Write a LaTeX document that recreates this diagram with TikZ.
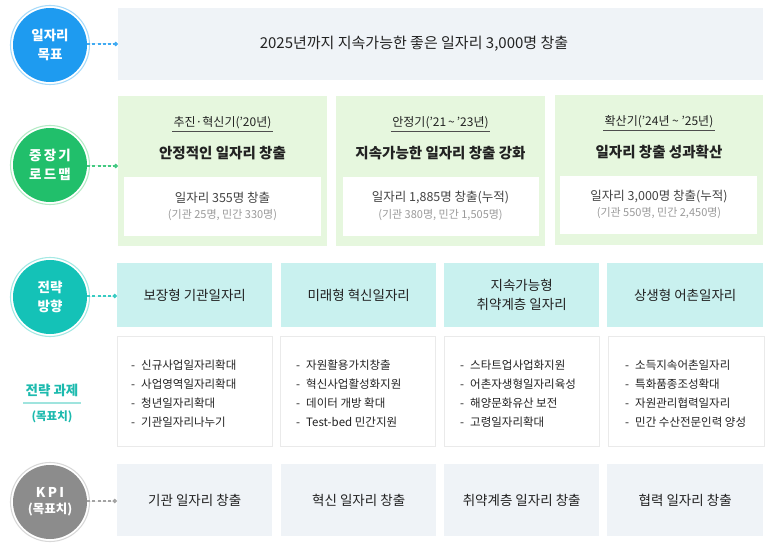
\documentclass[tikz,border=0pt]{standalone}
\usepackage{fontspec}
\setmainfont{Noto Sans CJK KR}
\usetikzlibrary{arrows.meta}
\definecolor{cblue}{HTML}{1E9BF0}
\definecolor{rblue}{HTML}{A8DBFA}
\definecolor{cgreen}{HTML}{21BF6B}
\definecolor{rgreen}{HTML}{B5EBC6}
\definecolor{cteal}{HTML}{14C2B7}
\definecolor{rteal}{HTML}{A5E9E4}
\definecolor{cgray}{HTML}{8C8C8C}
\definecolor{rgray}{HTML}{D8D8D8}
\definecolor{boxgray}{HTML}{EFF3F7}
\definecolor{boxgreen}{HTML}{E6F7DE}
\definecolor{boxteal}{HTML}{C9F1EF}
\definecolor{txt}{HTML}{222222}
\definecolor{subtxt}{HTML}{9A9A9A}
\definecolor{tealtxt}{HTML}{1DBAAE}
\definecolor{tealline}{HTML}{9FE4DE}
\definecolor{bordergray}{HTML}{EAEAEA}
\begin{document}
\begin{tikzpicture}[x=1pt,y=-1pt,
  every node/.style={text=txt},
  circ/.style={circle, minimum size=74pt, inner sep=0pt, text=white, align=center,
    font=\bfseries\fontsize{13.5}{19}\selectfont},
  ringc/.style={circle, minimum size=79pt, inner sep=0pt, line width=1.1pt},
  conn/.style={dash pattern=on 3pt off 2.2pt, line width=1.1pt, -{Circle[length=4.5pt]}},
  box/.style={rectangle, anchor=north west, inner sep=0pt},
  heading/.style={font=\fontsize{12}{14}\selectfont},
  title/.style={font=\bfseries\fontsize{14.5}{17}\selectfont},
  amount/.style={font=\fontsize{12.5}{15}\selectfont, text=txt!85},
  detail/.style={font=\fontsize{11}{13}\selectfont, text=subtxt},
  dirtext/.style={font=\fontsize{13.5}{19}\selectfont, align=center},
  tasklist/.style={anchor=west, align=left, font=\fontsize{11.5}{19}\selectfont, inner sep=0pt},
  kpitext/.style={font=\fontsize{13.5}{16}\selectfont}
]
\useasboundingbox (0,0) rectangle (779,548);

% ---------- row 1: goal ----------
\node[circ, fill=cblue] (c1) at (50,45) {일자리\\목표};
\node[ringc, draw=rblue] (r1) at (c1) {};
\node[box, fill=boxgray, minimum width=645pt, minimum height=72pt] (g1) at (118,8) {};
\node[font=\fontsize{15}{17}\selectfont] (g1t) at (414,44) {2025년까지 지속가능한 좋은 일자리 3,000명 창출};
\draw[conn, draw=cblue!85, fill=cblue] (c1.east |- 0,44) -- (g1.west |- 0,44);

% ---------- row 2: roadmap ----------
\node[circ, fill=cgreen] (c2) at (50,165) {중\,장\,기\\로\,드\,맵};
\node[ringc, draw=rgreen] (r2) at (c2) {};

\node[box, fill=boxgreen, minimum width=209pt, minimum height=150pt] (p1) at (118,96) {};
\node[box, fill=boxgreen, minimum width=209pt, minimum height=150pt] (p2) at (336,96) {};
\node[box, fill=boxgreen, minimum width=208pt, minimum height=150pt] (p3) at (555,95) {};
\node[box, fill=white, minimum width=197pt, minimum height=59pt] (w1) at (124,177) {};
\node[box, fill=white, minimum width=196pt, minimum height=59pt] (w2) at (343,177) {};
\node[box, fill=white, minimum width=197pt, minimum height=58pt] (w3) at (560,176) {};
\draw[conn, draw=cgreen!85, fill=cgreen] (c2.east |- 0,166) -- (p1.west |- 0,166);

\node[heading] (h1) at (222.5,123) {추진·혁신기(’20년)};
\node[heading] (h2) at (440.5,123) {안정기(’21\,\textasciitilde\,’23년)};
\node[heading] (h3) at (659,122) {확산기(’24년 \textasciitilde\ ’25년)};
\draw[txt!80, line width=0.6pt] (h1.south west) ++(2,-1) -- ([shift={(-2,-1)}]h1.south east);
\draw[txt!80, line width=0.6pt] (h2.south west) ++(2,-1) -- ([shift={(-2,-1)}]h2.south east);
\draw[txt!80, line width=0.6pt] (h3.south west) ++(2,-1) -- ([shift={(-2,-1)}]h3.south east);

\node[title] (t1) at (222.5,153) {안정적인 일자리 창출};
\node[title] (t2) at (440.5,153) {지속가능한 일자리 창출 강화};
\node[title] (t3) at (659,152) {일자리 창출 성과확산};

\node[amount] (a1) at (222.5,198) {일자리 355명 창출};
\node[detail] (d1) at (222.5,215) {(기관 25명, 민간 330명)};
\node[amount] (a2) at (440.5,198) {일자리 1,885명 창출(누적)};
\node[detail] (d2) at (440.5,215) {(기관 380명, 민간 1,505명)};
\node[amount] (a3) at (659,197) {일자리 3,000명 창출(누적)};
\node[detail] (d3) at (659,213) {(기관 550명, 민간 2,450명)};

% ---------- row 3: directions ----------
\node[circ, fill=cteal] (c3) at (50,297) {전략\\방향};
\node[ringc, draw=rteal] (r3) at (c3) {};

\node[box, fill=boxteal, minimum width=155pt, minimum height=64pt] (s1) at (117,263) {};
\node[box, fill=boxteal, minimum width=155pt, minimum height=64pt] (s2) at (281,263) {};
\node[box, fill=boxteal, minimum width=155pt, minimum height=64pt] (s3) at (444,263) {};
\node[box, fill=boxteal, minimum width=156pt, minimum height=64pt] (s4) at (607,263) {};
\draw[conn, draw=cteal!85, fill=cteal] (c3.east |- 0,296) -- (s1.west |- 0,296);

\node[dirtext] (s1t) at (s1.center) {보장형 기관일자리};
\node[dirtext] (s2t) at (s2.center) {미래형 혁신일자리};
\node[dirtext] (s3t) at (s3.center) {지속가능형\\취약계층 일자리};
\node[dirtext] (s4t) at (s4.center) {상생형 어촌일자리};

% ---------- row 4: tasks ----------
\node[font=\bfseries\fontsize{13.5}{16}\selectfont, text=tealtxt] (tk) at (52,390) {전략 과제};
\node[font=\bfseries\fontsize{11.5}{14}\selectfont, text=tealtxt] (tk2) at (52,417) {(목표치)};
\draw[tealline, line width=1.2pt] (23,403) coordinate (ul1) -- (81,403) coordinate (ul2);

\node[box, fill=white, draw=bordergray, line width=1.2pt, minimum width=155pt, minimum height=110pt] (k1) at (117,336) {};
\node[box, fill=white, draw=bordergray, line width=1.2pt, minimum width=155pt, minimum height=110pt] (k2) at (280,336) {};
\node[box, fill=white, draw=bordergray, line width=1.2pt, minimum width=155pt, minimum height=110pt] (k3) at (444,336) {};
\node[box, fill=white, draw=bordergray, line width=1.2pt, minimum width=156pt, minimum height=110pt] (k4) at (608,336) {};

\node[tasklist] (l1) at (131,393.5) {-\hspace{6pt}신규사업일자리확대\\-\hspace{6pt}사업영역일자리확대\\-\hspace{6pt}청년일자리확대\\-\hspace{6pt}기관일자리나누기};
\node[tasklist] (l2) at (296,393.5) {-\hspace{6pt}자원활용가치창출\\-\hspace{6pt}혁신사업활성화지원\\-\hspace{6pt}데이터 개방 확대\\-\hspace{6pt}Test-bed 민간지원};
\node[tasklist] (l3) at (460,393.5) {-\hspace{6pt}스타트업사업화지원\\-\hspace{6pt}어촌자생형일자리육성\\-\hspace{6pt}해양문화유산 보전\\-\hspace{6pt}고령일자리확대};
\node[tasklist] (l4) at (625,393.5) {-\hspace{6pt}소득지속어촌일자리\\-\hspace{6pt}특화품종조성확대\\-\hspace{6pt}자원관리협력일자리\\-\hspace{6pt}민간 수산전문인력 양성};

% ---------- row 5: KPI ----------
\node[circ, fill=cgray] (c4) at (50,502) {K\,P\,I\\[-3pt]{\fontsize{12.5}{15}\selectfont(목표치)}};
\node[ringc, draw=rgray] (r4) at (c4) {};

\node[box, fill=boxgray, minimum width=155pt, minimum height=72pt] (m1) at (117,464) {};
\node[box, fill=boxgray, minimum width=155pt, minimum height=72pt] (m2) at (281,464) {};
\node[box, fill=boxgray, minimum width=155pt, minimum height=72pt] (m3) at (444,464) {};
\node[box, fill=boxgray, minimum width=156pt, minimum height=72pt] (m4) at (607,464) {};
\draw[conn, draw=cgray!80, fill=cgray] (c4.east |- 0,501) -- (m1.west |- 0,501);

\node[kpitext] (m1t) at (m1.center) {기관 일자리 창출};
\node[kpitext] (m2t) at (m2.center) {혁신 일자리 창출};
\node[kpitext] (m3t) at (m3.center) {취약계층 일자리 창출};
\node[kpitext] (m4t) at (m4.center) {협력 일자리 창출};
\end{tikzpicture}
\end{document}
